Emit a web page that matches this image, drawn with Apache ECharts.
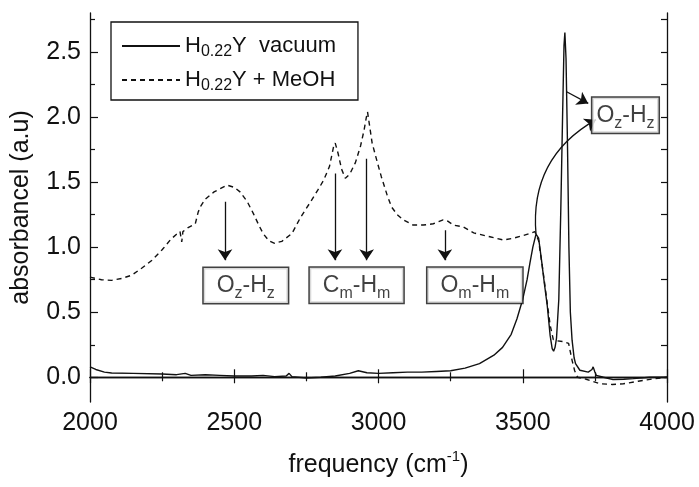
<!DOCTYPE html>
<html>
<head>
<meta charset="utf-8">
<script src="https://cdn.jsdelivr.net/npm/echarts@6/dist/echarts.min.js"></script>
<style>
  html, body { margin: 0; padding: 0; background: #fff; }
  #chart { width: 699px; height: 487px; }
</style>
</head>
<body>
<div id="chart"></div>
<script>
// IR absorbance spectra of H0.22Y zeolite, under vacuum and with adsorbed methanol
const freqVacuum = [2000, 2020, 2050, 2075, 2150, 2250, 2300, 2330, 2350, 2400, 2450, 2500, 2560, 2600, 2640, 2680, 2690, 2700, 2750, 2800, 2850, 2900, 2930, 2960, 3000, 3050, 3100, 3150, 3200, 3250, 3300, 3350, 3400, 3430, 3460, 3480, 3500, 3515, 3525, 3535, 3546, 3555, 3565, 3575, 3585, 3595, 3602, 3607, 3612, 3617, 3625, 3632, 3638, 3643, 3646, 3650, 3655, 3660, 3665, 3671, 3678, 3683, 3698, 3727, 3740, 3744, 3750, 3755, 3780, 3813, 3850, 3883, 3940, 4000];
const absVacuum  = [0.08, 0.06, 0.04, 0.033, 0.03, 0.025, 0.02, 0.03, 0.015, 0.02, 0.015, 0.01, 0.01, 0.015, 0.005, 0.01, 0.03, 0.005, -0.005, 0.0, 0.01, 0.03, 0.05, 0.035, 0.03, 0.035, 0.04, 0.04, 0.045, 0.05, 0.07, 0.105, 0.17, 0.23, 0.33, 0.45, 0.6, 0.75, 0.88, 1.0, 1.1, 1.07, 0.9, 0.72, 0.55, 0.32, 0.22, 0.2, 0.23, 0.3, 0.6, 1.3, 2.0, 2.55, 2.65, 2.45, 1.8, 1.0, 0.5, 0.285, 0.15, 0.105, 0.054, 0.04, 0.06, 0.08, 0.04, 0.015, 0.0, -0.018, -0.015, -0.01, 0.0, 0.0];

const freqMeOH = [2000, 2040, 2075, 2110, 2145, 2180, 2215, 2250, 2280, 2300, 2312, 2318, 2322, 2340, 2365, 2375, 2385, 2400, 2430, 2475, 2500, 2520, 2545, 2566, 2585, 2600, 2620, 2640, 2665, 2700, 2730, 2765, 2790, 2810, 2830, 2845, 2850, 2860, 2872, 2885, 2900, 2920, 2938, 2950, 2958, 2962, 2968, 2978, 2995, 3010, 3030, 3045, 3065, 3086, 3120, 3155, 3190, 3224, 3240, 3260, 3294, 3330, 3386, 3433, 3470, 3502, 3530, 3542, 3555, 3570, 3583, 3595, 3606, 3620, 3640, 3659, 3671, 3680, 3690, 3720, 3768, 3810, 3849, 3900, 3930, 3960, 4000];
const absMeOH  = [0.77, 0.75, 0.745, 0.76, 0.785, 0.84, 0.9, 0.98, 1.06, 1.1, 1.12, 1.04, 1.12, 1.15, 1.18, 1.27, 1.32, 1.37, 1.425, 1.477, 1.46, 1.425, 1.35, 1.26, 1.17, 1.105, 1.05, 1.03, 1.045, 1.105, 1.23, 1.35, 1.44, 1.515, 1.62, 1.78, 1.8, 1.72, 1.6, 1.53, 1.56, 1.65, 1.78, 1.9, 2.0, 2.04, 1.95, 1.8, 1.66, 1.54, 1.4, 1.31, 1.25, 1.21, 1.17, 1.17, 1.18, 1.21, 1.2, 1.17, 1.155, 1.11, 1.08, 1.055, 1.07, 1.09, 1.11, 1.12, 1.05, 0.82, 0.6, 0.4, 0.29, 0.28, 0.275, 0.26, 0.13, 0.05, 0.0, -0.015, -0.05, -0.055, -0.05, -0.03, -0.02, -0.01, 0.0];

// axis ticks
const xMin = 2000, xMax = 4000, xStep = 500;
const yMin = -0.19, yMax = 2.8;
const yMajor = [0, 0.5, 1.0, 1.5, 2.0, 2.5];
const yMinor = [0.25, 0.75, 1.25, 1.75, 2.25, 2.75];

// band assignment labels [frequency, absorbance, text]
const bandLabels = [
  [2540, 0.705, 'Oz-Hz'],
  [2924, 0.708, 'Cm-Hm'],
  [3334, 0.708, 'Om-Hm'],
  [3856, 2.015, 'Oz-Hz']
];
// straight arrows [from, to] in data units
const arrows = [
  [[2468, 1.35], [2468, 0.9]],
  [[2849, 1.567], [2849, 0.9]],
  [[2959, 1.68], [2959, 0.9]],
  [[3230, 1.13], [3230, 0.9]],
  [[3652, 2.195], [3727, 2.105]]
];
const curvedArrow = [[3546, 1.1], [3754, 1.98]];

const ink = '#111';
const font = '"Liberation Sans", Arial, Helvetica, sans-serif';

function zip(xs, ys) { return xs.map((x, i) => [x, ys[i]]); }

function bandRich(t) {
  // 'Oz-Hz' -> O{sub z}-H{sub z}
  return '{m|' + t[0] + '}{s|' + t[1] + '}{m|-' + t[3] + '}{s|' + t[4] + '}';
}

const chart = echarts.init(document.getElementById('chart'), null, { renderer: 'canvas' });

const axisLine = { show: true, lineStyle: { color: ink, width: 1.3 } };

chart.setOption({
  backgroundColor: '#fff',
  animation: false,
  textStyle: { fontFamily: font },
  grid: { left: 90, right: 32, top: 13, bottom: 85, containLabel: false },
  legend: {
    orient: 'vertical',
    left: 111, top: 22,
    padding: [13, 22, 6, 10],
    itemGap: 9,
    itemWidth: 58, itemHeight: 14,
    borderColor: ink, borderWidth: 1.3,
    backgroundColor: '#fff',
    itemStyle: { opacity: 0 },
    data: ['vacuum', 'MeOH'],
    formatter: function (name) {
      return name === 'vacuum'
        ? '{m|H}{s|0.22}{m|Y  vacuum}'
        : '{m|H}{s|0.22}{m|Y + MeOH}';
    },
    textStyle: {
      color: ink,
      rich: {
        m: { fontSize: 22, fontFamily: font, color: ink, lineHeight: 28 },
        s: { fontSize: 16, fontFamily: font, color: ink, lineHeight: 16, verticalAlign: 'bottom' }
      }
    }
  },
  xAxis: [
    {
      type: 'value', position: 'bottom',
      min: xMin, max: xMax, interval: xStep,
      name: 'frequency (cm{sup|-1})',
      nameLocation: 'middle', nameGap: 47,
      nameTextStyle: {
        color: ink,
        rich: {
          sup: { fontSize: 15, fontFamily: font, color: ink, verticalAlign: 'top', lineHeight: 14 }
        },
        fontSize: 25, fontFamily: font, lineHeight: 32
      },
      axisLine: axisLine,
      axisTick: { show: true, inside: true, length: 8, lineStyle: { color: ink, width: 1.2 } },
      minorTick: { show: true, splitNumber: 2, length: 5, lineStyle: { color: ink, width: 1.2 } },
      axisLabel: { color: ink, fontSize: 25, fontFamily: font, margin: 9, formatter: v => String(v) },
      splitLine: { show: false }
    },
    {
      type: 'value', position: 'top',
      min: xMin, max: xMax, interval: xStep,
      axisLine: axisLine,
      axisTick: { show: true, inside: true, length: 6, lineStyle: { color: ink, width: 1.2 } },
      minorTick: { show: true, splitNumber: 2, length: 4, lineStyle: { color: ink, width: 1.2 } },
      axisLabel: { show: false },
      splitLine: { show: false }
    }
  ],
  yAxis: [
    {
      type: 'value', position: 'left',
      min: yMin, max: yMax,
      name: 'absorbancel (a.u)',
      nameLocation: 'middle', nameGap: 56,
      nameTextStyle: { color: ink, fontSize: 25, fontFamily: font },
      axisLine: axisLine,
      axisTick: { show: true, inside: true, length: 8, customValues: yMajor, lineStyle: { color: ink, width: 1.2 } },
      axisLabel: {
        color: ink, fontSize: 25, fontFamily: font, margin: 9,
        customValues: yMajor,
        formatter: v => v.toFixed(1)
      },
      splitLine: { show: false }
    },
    {
      type: 'value', position: 'left',
      min: yMin, max: yMax,
      axisLine: { show: false },
      axisTick: { show: true, inside: true, length: 5, customValues: yMinor, lineStyle: { color: ink, width: 1.2 } },
      axisLabel: { show: false },
      splitLine: { show: false }
    },
    {
      type: 'value', position: 'right',
      min: yMin, max: yMax,
      axisLine: axisLine,
      axisTick: { show: true, inside: true, length: 6, customValues: yMajor.concat(yMinor), lineStyle: { color: ink, width: 1.2 } },
      axisLabel: { show: false },
      splitLine: { show: false }
    }
  ],
  series: [
    {
      name: 'vacuum', type: 'line',
      data: zip(freqVacuum, absVacuum),
      showSymbol: false, symbol: 'none',
      lineStyle: { color: ink, width: 1.4 },
      itemStyle: { color: ink },
      z: 3
    },
    {
      name: 'MeOH', type: 'line',
      data: zip(freqMeOH, absMeOH),
      showSymbol: false, symbol: 'none',
      lineStyle: { color: ink, width: 1.4, type: [5, 4] },
      itemStyle: { color: ink },
      z: 3
    },
    {
      name: 'arrows', type: 'lines',
      coordinateSystem: 'cartesian2d',
      symbol: ['none', 'arrow'], symbolSize: [7, 11],
      lineStyle: { color: ink, width: 1.3, opacity: 1 },
      data: arrows.map(a => ({ coords: a })),
      z: 4
    },
    {
      name: 'curved', type: 'lines',
      coordinateSystem: 'cartesian2d',
      symbol: ['none', 'arrow'], symbolSize: [7, 11],
      lineStyle: { color: ink, width: 1.3, opacity: 1, curveness: 0.32 },
      data: [{ coords: curvedArrow }],
      z: 4
    },
    {
      name: 'bands', type: 'scatter',
      symbolSize: 0,
      data: bandLabels.map((b, i) => ({
        value: [b[0], b[1]],
        label: {
          padding: i === 3 ? [2, 4, 1, 4] : [2, 13, 1, 13]
        }
      })),
      label: {
        show: true, position: 'inside',
        formatter: p => bandRich(bandLabels[p.dataIndex][2]),
        backgroundColor: '#fff',
        borderColor: ink, borderWidth: 1.5,
        rich: {
          m: { fontSize: 23, fontFamily: font, color: ink, lineHeight: 32 },
          s: { fontSize: 16, fontFamily: font, color: ink, lineHeight: 18, verticalAlign: 'bottom' }
        }
      },
      z: 5
    }
  ]
});
</script>
</body>
</html>
